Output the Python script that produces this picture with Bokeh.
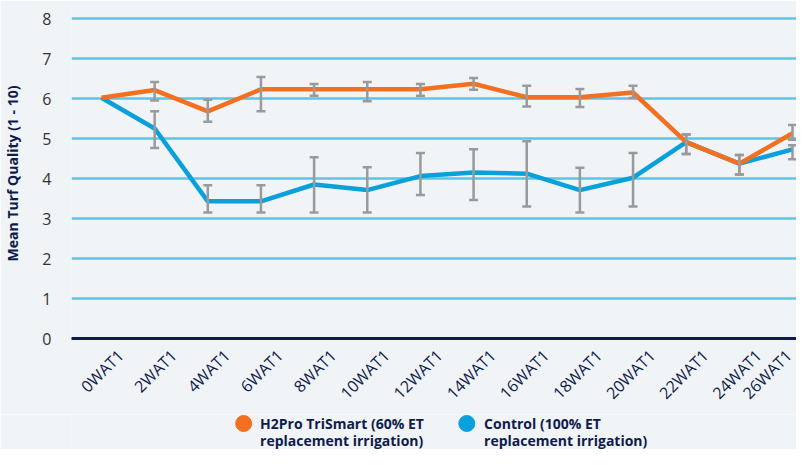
from math import pi
from bokeh.plotting import figure
from bokeh.layouts import column
from bokeh.models import ColumnDataSource, Whisker, TeeHead, FixedTicker, Range1d
from bokeh.core.properties import value
from bokeh.embed import file_html
from bokeh.resources import INLINE

categories = ["0WAT1", "2WAT1", "4WAT1", "6WAT1", "8WAT1", "10WAT1", "12WAT1",
              "14WAT1", "16WAT1", "18WAT1", "20WAT1", "22WAT1", "24WAT1", "26WAT1"]
trismart = [6.02, 6.21, 5.68, 6.23, 6.23, 6.23, 6.23, 6.37, 6.03, 6.03, 6.15, 4.91, 4.37, 5.13]
trismart_lower = [None, 5.95, 5.42, 5.68, 6.07, 5.93, 6.07, 6.22, 5.80, 5.79, 6.01, 4.61, 4.10, 4.97]
trismart_upper = [None, 6.41, 5.97, 6.54, 6.36, 6.41, 6.36, 6.51, 6.32, 6.24, 6.32, 5.10, 4.59, 5.34]
control = [6.02, 5.25, 3.43, 3.43, 3.85, 3.71, 4.06, 4.15, 4.12, 3.71, 4.02, 4.91, 4.37, 4.73]
control_lower = [None, 4.76, 3.15, 3.15, 3.15, 3.15, 3.59, 3.46, 3.30, 3.15, 3.30, 4.61, 4.10, 4.48]
control_upper = [None, 5.68, 3.83, 3.83, 4.53, 4.28, 4.64, 4.73, 4.93, 4.27, 4.64, 5.10, 4.59, 4.83]
y_ticks = [0, 1, 2, 3, 4, 5, 6, 7, 8]
legend_labels = ["H2Pro TriSmart (60% ET\nreplacement irrigation)",
                 "Control (100% ET\nreplacement irrigation)"]

ORANGE = "#f37021"
BLUE = "#0aa0dc"
GRID = "#62c2e2"
NAVY = "#0f1b4c"
GRAY = "#9a9a9a"
BG = "#f0f4f6"

X_START, X_END = -0.564, 13.075
xs = list(range(len(categories)))
LABEL_SHIFT = 0.36  # rotated tick labels sit a little right of each category
label_pos = [round(min(x + LABEL_SHIFT, X_END - 0.004), 3) for x in xs]

p = figure(width=796, height=414, output_backend="svg", toolbar_location=None,
           x_range=Range1d(X_START, X_END), y_range=Range1d(0, 8.25),
           min_border_left=70, min_border_right=0, min_border_top=8, min_border_bottom=76,
           background_fill_color=BG, border_fill_color=BG, outline_line_color=None)

# grid
p.xgrid.grid_line_color = None
p.ygrid.grid_line_color = GRID
p.ygrid.grid_line_width = 2.5
p.ygrid.ticker = FixedTicker(ticks=y_ticks)

# y axis
p.yaxis.ticker = FixedTicker(ticks=y_ticks)
p.yaxis.axis_line_color = None
p.yaxis.major_tick_line_color = None
p.yaxis.minor_tick_line_color = None
p.yaxis.major_label_standoff = 14
p.yaxis.major_label_text_font = "Open Sans"
p.yaxis.major_label_text_font_size = "16px"
p.yaxis.major_label_text_color = "#333333"
p.yaxis.axis_label = "Mean Turf Quality (1 - 10)"
p.yaxis.axis_label_text_font = "Open Sans"
p.yaxis.axis_label_text_font_style = "bold"
p.yaxis.axis_label_text_font_size = "14px"
p.yaxis.axis_label_text_color = NAVY
p.yaxis.axis_label_standoff = 17

# x axis
p.xaxis.ticker = FixedTicker(ticks=label_pos)
p.xaxis.major_label_overrides = {lp: c for lp, c in zip(label_pos, categories)}
p.xaxis.major_label_orientation = pi / 4
p.xaxis.axis_line_color = NAVY
p.xaxis.axis_line_width = 3
p.xaxis.major_tick_line_color = None
p.xaxis.minor_tick_line_color = None
p.xaxis.major_label_standoff = 8
p.xaxis.major_label_text_font = "Open Sans"
p.xaxis.major_label_text_font_size = "16px"
p.xaxis.major_label_text_color = NAVY

# lines
p.line(xs, control, line_color=BLUE, line_width=4.5)
p.line(xs, trismart, line_color=ORANGE, line_width=4.5)

# error bars
for lower, upper in ((trismart_lower, trismart_upper), (control_lower, control_upper)):
    idx = [i for i in xs if lower[i] is not None]
    src = ColumnDataSource(dict(x=idx, lower=[lower[i] for i in idx], upper=[upper[i] for i in idx]))
    w = Whisker(base="x", lower="lower", upper="upper", source=src,
                line_color=GRAY, line_width=2.5, level="overlay",
                upper_head=TeeHead(size=9, line_color=GRAY, line_width=2.5),
                lower_head=TeeHead(size=9, line_color=GRAY, line_width=2.5))
    p.add_layout(w)

# legend strip below the chart (its ranges are in pixels of the strip)
lg = figure(width=796, height=35, output_backend="svg", toolbar_location=None,
            x_range=Range1d(0, 796), y_range=Range1d(0, 35),
            min_border=0, background_fill_color=BG, border_fill_color=BG,
            outline_line_color=None)
lg.axis.visible = False
lg.grid.visible = False
marker_src = ColumnDataSource(dict(mx=[189, 434], my=[26, 26], color=[ORANGE, BLUE]))
lg.scatter("mx", "my", source=marker_src, marker="circle", size=16,
           fill_color="color", line_color="color")
first_lines = [lab.split("\n")[0] for lab in legend_labels]
second_lines = [lab.split("\n")[1] for lab in legend_labels]
text_src = ColumnDataSource(dict(tx=[207, 207, 453, 453], ty=[26, 9, 26, 9],
                                 label=[first_lines[0], second_lines[0],
                                        first_lines[1], second_lines[1]]))
lg.text("tx", "ty", text="label", source=text_src, text_font=value("Open Sans"),
        text_font_style="bold", text_font_size="14px", text_color=NAVY,
        text_baseline="middle", text_align="left")

open("out.html", "w").write(file_html(column(p, lg, spacing=0), INLINE))
